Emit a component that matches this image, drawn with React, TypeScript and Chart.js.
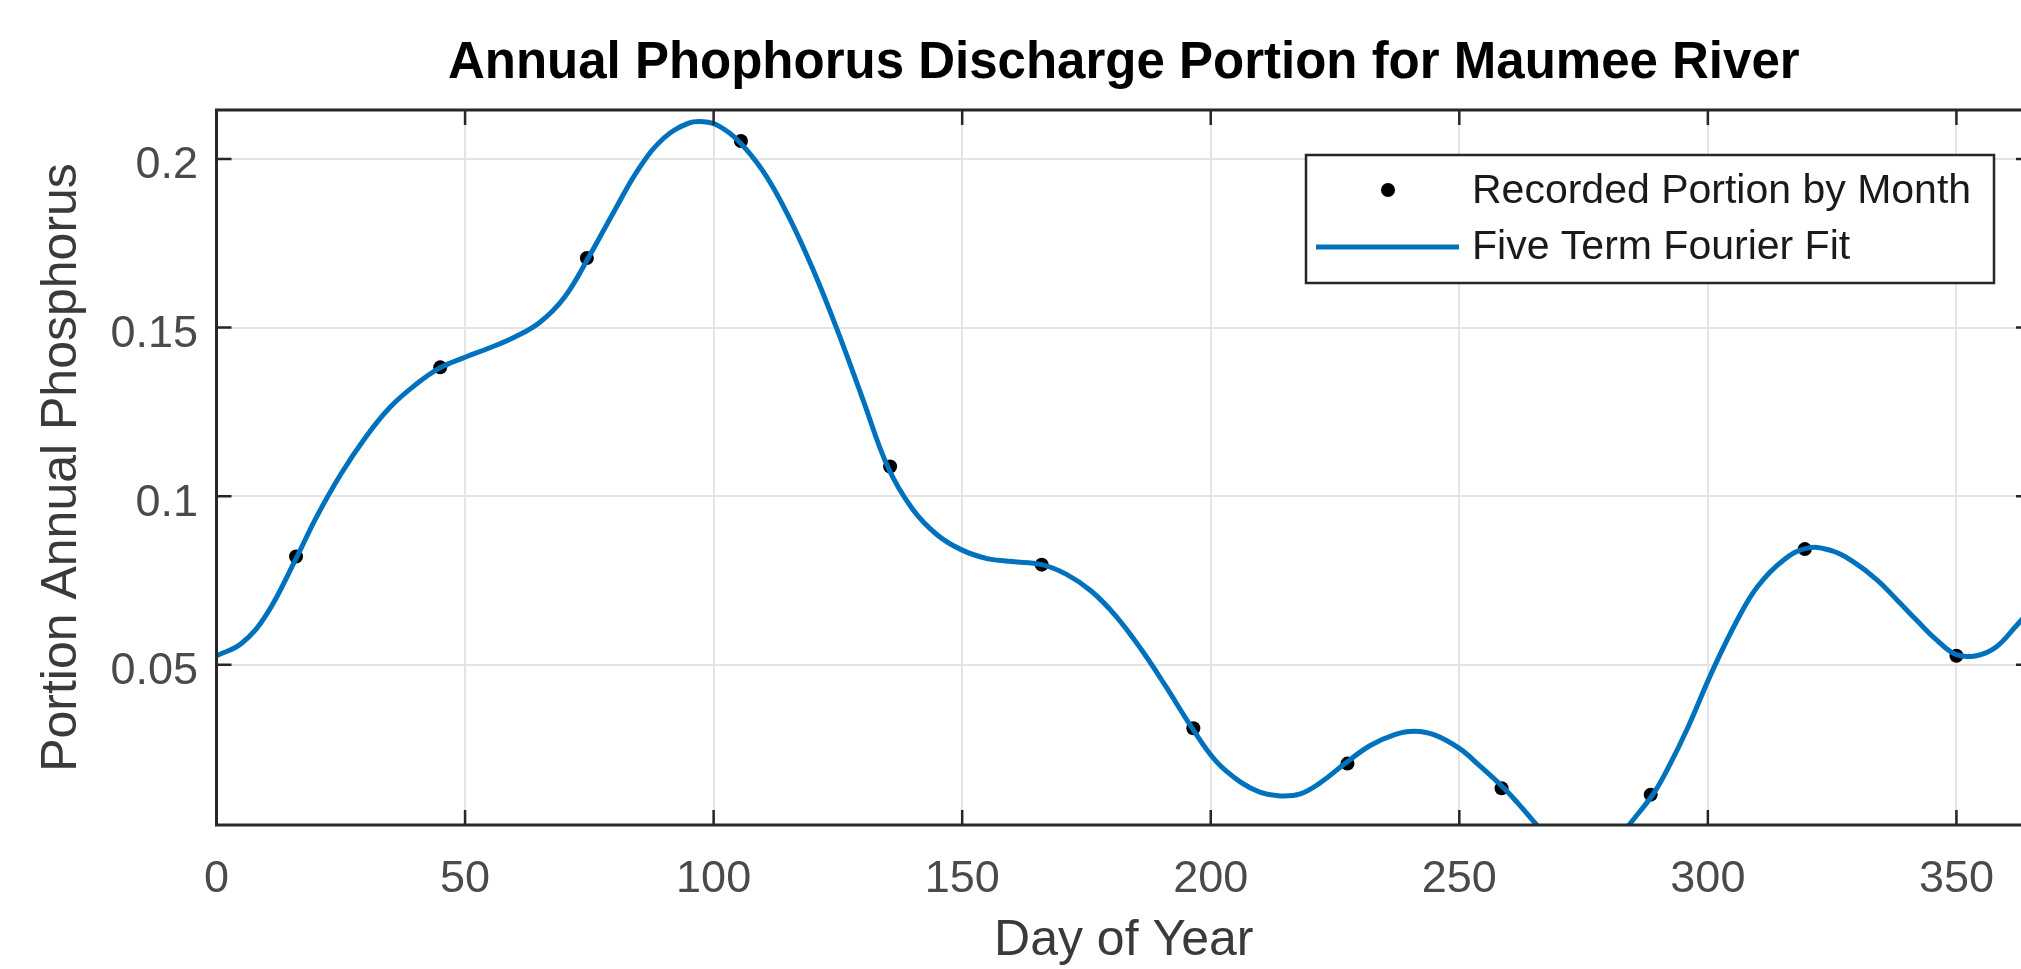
import React, { useEffect, useRef } from 'react';
import { Chart, registerables } from 'chart.js';

Chart.register(...registerables);

const FONT = "'Liberation Sans', Arial, Helvetica, sans-serif";

// ---- data ----
const titleText = 'Annual Phophorus Discharge Portion for Maumee River';
const xAxisLabel = 'Day of Year';
const yAxisLabel = 'Portion Annual Phosphorus';
const seriesNames = ['Recorded Portion by Month', 'Five Term Fourier Fit'];

const monthDays = [16, 45, 74.5, 105.5, 135.5, 166, 196.5, 227.5, 258.5, 288.5, 319.5, 350];
const monthPortion = [0.0821, 0.1382, 0.1706, 0.2053, 0.1088, 0.0797, 0.0312, 0.0207, 0.0134, 0.0115, 0.0843, 0.0527];

const fitDays = [
  0, 5, 10, 16, 20, 25, 30, 35, 40, 45, 50, 55, 60, 65, 70, 75, 80, 85, 90, 95, 98, 101, 105,
  110, 115, 120, 125, 130, 135, 140, 145, 150, 155, 160, 166, 171, 176, 181, 186, 191, 196,
  201, 206, 210, 214, 218, 222, 227, 232, 237, 241, 245, 250, 254, 259, 262, 266, 270, 275,
  280, 284, 289, 292, 296, 301, 306, 310, 315, 320, 325, 329, 334, 338, 342, 346, 350, 354,
  358, 362, 365,
];
const fitPortion = [
  0.0527, 0.0563, 0.0648, 0.0815, 0.0935, 0.1065, 0.1175, 0.1265, 0.133, 0.1381, 0.1412, 0.144,
  0.1472, 0.1515, 0.159, 0.1712, 0.1845, 0.1972, 0.2062, 0.2106, 0.211, 0.2098, 0.2053,
  0.1962, 0.1832, 0.1672, 0.1488, 0.1288, 0.1088, 0.0962, 0.0885, 0.084, 0.0815, 0.0806, 0.0797,
  0.0768, 0.0718, 0.0643, 0.0546, 0.0435, 0.0318, 0.0215, 0.0152, 0.0122, 0.0111, 0.0117, 0.015,
  0.0207, 0.026, 0.0293, 0.0303, 0.0292, 0.0252, 0.0202, 0.0134, 0.0086, 0.0018, -0.0046,
  -0.0078, -0.0058, 0.0022, 0.0117, 0.0194, 0.0315, 0.0485, 0.0635, 0.0732, 0.0808, 0.0846,
  0.0838, 0.0808, 0.0752, 0.0693, 0.0632, 0.0574, 0.053, 0.0527, 0.0553, 0.0615, 0.0665,
];

const xTickValues = [0, 50, 100, 150, 200, 250, 300, 350];
const xTickLabels = ['0', '50', '100', '150', '200', '250', '300', '350'];
const yTickValues = [0.05, 0.1, 0.15, 0.2];
const yTickLabels = ['0.05', '0.1', '0.15', '0.2'];
const xMin = 0;
const xMax = 365;
const yMin = 0.0025;
const yMax = 0.2145;

// ---- layout ----
const CANVAS_W = 2100;
const CANVAS_H = 969;
const PLOT_RIGHT = 2031;
const FIT_BLUE = '#0072BD';
const AXIS_COLOR = '#262626';

const framePlugin = {
  id: 'matlabFrame',
  afterDatasetsDraw(chart: any) {
    const { ctx, chartArea, scales } = chart;
    const { left, right, top, bottom } = chartArea;
    const xs = scales.x;
    const ys = scales.y;
    const tl = 15;
    ctx.save();
    ctx.strokeStyle = AXIS_COLOR;
    ctx.lineWidth = 2.5;
    ctx.beginPath();
    xTickValues.forEach((v) => {
      const px = xs.getPixelForValue(v);
      ctx.moveTo(px, bottom);
      ctx.lineTo(px, bottom - tl);
      ctx.moveTo(px, top);
      ctx.lineTo(px, top + tl);
    });
    yTickValues.forEach((v) => {
      const py = ys.getPixelForValue(v);
      ctx.moveTo(left, py);
      ctx.lineTo(left + tl, py);
      ctx.moveTo(right, py);
      ctx.lineTo(right - tl, py);
    });
    ctx.stroke();
    ctx.lineWidth = 3;
    ctx.strokeRect(left, top, right - left, bottom - top);
    ctx.restore();
  },
};

const legendPlugin = {
  id: 'insetLegend',
  afterDraw(chart: any) {
    const { ctx, chartArea } = chart;
    const bw = 688;
    const bh = 128;
    const bx = chartArea.right - 37 - bw;
    const by = chartArea.top + 45;
    ctx.save();
    ctx.fillStyle = '#ffffff';
    ctx.fillRect(bx, by, bw, bh);
    ctx.strokeStyle = AXIS_COLOR;
    ctx.lineWidth = 2.5;
    ctx.strokeRect(bx, by, bw, bh);

    const row1 = by + 37;
    const row2 = by + 93;
    ctx.fillStyle = '#000000';
    ctx.beginPath();
    ctx.arc(bx + 82, row1 - 2, 7, 0, Math.PI * 2);
    ctx.fill();
    ctx.strokeStyle = FIT_BLUE;
    ctx.lineWidth = 5;
    ctx.beginPath();
    ctx.moveTo(bx + 10, row2 - 1);
    ctx.lineTo(bx + 153, row2 - 1);
    ctx.stroke();

    ctx.fillStyle = '#1a1a1a';
    ctx.font = `41px ${FONT}`;
    ctx.textAlign = 'left';
    ctx.textBaseline = 'middle';
    ctx.fillText(seriesNames[0], bx + 166, row1);
    ctx.fillText(seriesNames[1], bx + 166, row2);
    ctx.restore();
  },
};

export default function App() {
  const canvasRef = useRef<HTMLCanvasElement | null>(null);

  useEffect(() => {
    const canvas = canvasRef.current;
    if (!canvas) return;

    const fitData = fitDays.map((d, i) => ({ x: d, y: fitPortion[i] }));
    const pointData = monthDays.map((d, i) => ({ x: d, y: monthPortion[i] }));

    const chart = new Chart(canvas, {
      type: 'scatter',
      data: {
        datasets: [
          {
            label: seriesNames[1],
            data: fitData,
            showLine: true,
            borderColor: FIT_BLUE,
            backgroundColor: FIT_BLUE,
            borderWidth: 5,
            pointRadius: 0,
            pointHoverRadius: 0,
            tension: 0.4,
            cubicInterpolationMode: 'default',
            clip: 0,
            order: 0,
          },
          {
            label: seriesNames[0],
            data: pointData,
            showLine: false,
            backgroundColor: '#000000',
            borderColor: '#000000',
            borderWidth: 0,
            pointRadius: 7,
            pointHoverRadius: 7,
            clip: false,
            order: 1,
          },
        ],
      } as any,
      options: {
        responsive: false,
        maintainAspectRatio: false,
        animation: false,
        devicePixelRatio: 1,
        events: [],
        layout: { padding: { left: 0, top: 0, bottom: 0, right: CANVAS_W - PLOT_RIGHT } },
        plugins: {
          legend: { display: false },
          tooltip: { enabled: false },
          title: {
            display: true,
            text: titleText,
            fullSize: false,
            color: '#000000',
            font: { family: FONT, size: 51, weight: 'bold', lineHeight: 1 },
            padding: { top: 38.5, bottom: 20.5 },
          },
        },
        scales: {
          x: {
            type: 'linear',
            min: xMin,
            max: xMax,
            afterBuildTicks: (scale: any) => {
              scale.ticks = xTickValues.map((v) => ({ value: v }));
            },
            afterFit: (scale: any) => {
              scale.height = 144;
            },
            grid: { color: '#e4e4e4', lineWidth: 2, drawTicks: false },
            border: { display: false },
            ticks: {
              color: '#4a4a4a',
              padding: 32,
              maxRotation: 0,
              autoSkip: false,
              font: { family: FONT, size: 45, lineHeight: 1 },
              callback: (_v: any, i: number) => xTickLabels[i],
            },
            title: {
              display: true,
              text: xAxisLabel,
              color: '#3a3a3a',
              font: { family: FONT, size: 50, lineHeight: 1 },
              padding: { top: 0, bottom: 3 },
            },
          },
          y: {
            type: 'linear',
            min: yMin,
            max: yMax,
            afterBuildTicks: (scale: any) => {
              scale.ticks = yTickValues.map((v) => ({ value: v }));
            },
            afterFit: (scale: any) => {
              scale.width = 216.5;
            },
            grid: { color: '#e4e4e4', lineWidth: 2, drawTicks: false },
            border: { display: false },
            ticks: {
              color: '#4a4a4a',
              padding: 18.5,
              labelOffset: 7,
              autoSkip: false,
              font: { family: FONT, size: 45, lineHeight: 1 },
              callback: (_v: any, i: number) => yTickLabels[i],
            },
            title: {
              display: true,
              text: yAxisLabel,
              color: '#3a3a3a',
              font: { family: FONT, size: 50, lineHeight: 1 },
              padding: { top: 37, bottom: 0 },
            },
          },
        },
      } as any,
      plugins: [framePlugin, legendPlugin],
    });

    return () => {
      chart.destroy();
    };
  }, []);

  return (
    <div
      style={{
        position: 'absolute',
        left: 0,
        top: 0,
        width: '2021px',
        height: `${CANVAS_H}px`,
        overflow: 'hidden',
        background: '#ffffff',
      }}
    >
      <canvas
        ref={canvasRef}
        width={CANVAS_W}
        height={CANVAS_H}
        style={{ display: 'block', width: `${CANVAS_W}px`, height: `${CANVAS_H}px` }}
      />
    </div>
  );
}
